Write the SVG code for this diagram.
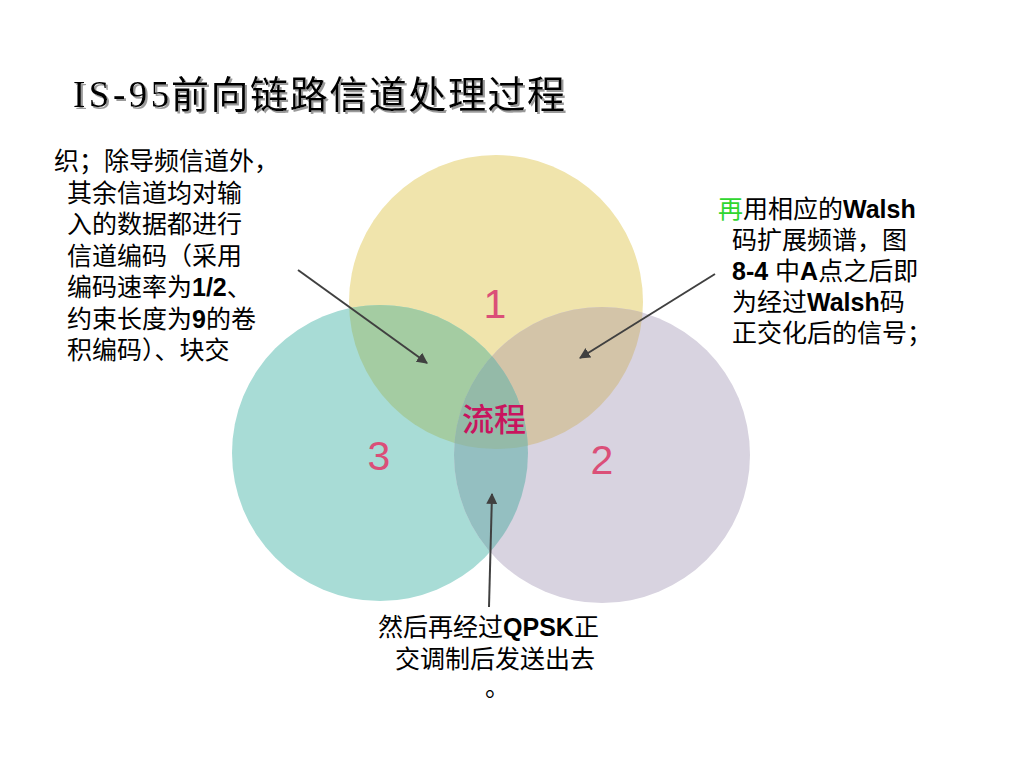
<svg xmlns="http://www.w3.org/2000/svg" width="1024" height="768" viewBox="0 0 1024 768">
<style>
.t{font-family:"Liberation Sans","Noto Sans CJK SC",sans-serif;font-size:25px;fill:#000}
.b{font-weight:bold}
.num{font-family:"Liberation Sans",sans-serif;font-size:41px;fill:#DB4F78;text-anchor:middle}
.ln{stroke:#404040;stroke-width:2;fill:none}
</style>
<defs>
<filter id="sh" x="-5%" y="-20%" width="110%" height="150%">
<feDropShadow dx="2" dy="2" stdDeviation="0.6" flood-color="#9a9a9a" flood-opacity="1"/>
</filter>
<marker id="ah" viewBox="0 0 10 10" refX="9" refY="5" markerWidth="5.5" markerHeight="5.5" orient="auto" markerUnits="strokeWidth">
<path d="M0,0 L10,5 L0,10 z" fill="#404040"/>
</marker>
<clipPath id="c1"><circle cx="496" cy="302" r="147"/></clipPath>
<clipPath id="c2"><circle cx="602" cy="455" r="148"/></clipPath>
<clipPath id="c3"><circle cx="380" cy="453" r="148"/></clipPath>
</defs>
<rect width="1024" height="768" fill="#fff"/>
<text y="107" fill="#000" filter="url(#sh)"><tspan x="73" font-family="'Liberation Serif',serif" font-size="37" letter-spacing="3.5">IS-95</tspan><tspan x="171" y="108" font-family="'Noto Sans CJK SC',sans-serif" font-size="38" textLength="394" lengthAdjust="spacing">前向链路信道处理过程</tspan></text>
<g id="circle1"><circle cx="496" cy="302" r="147" fill="#F0E4AC"/></g>
<g id="circle3"><circle cx="380" cy="453" r="148" fill="#A8DCD6"/></g>
<g id="circle2"><circle cx="602" cy="455" r="148" fill="#D8D3E0"/></g>
<g id="overlaps">
<circle cx="380" cy="453" r="148" fill="#A4CCA2" clip-path="url(#c1)"/>
<circle cx="602" cy="455" r="148" fill="#D3C4A8" clip-path="url(#c1)"/>
<circle cx="602" cy="455" r="148" fill="#94BFC1" clip-path="url(#c3)"/>
<g clip-path="url(#c1)"><circle cx="602" cy="455" r="148" fill="#94BAA8" clip-path="url(#c3)"/></g>
</g>
<g id="labels">
<text class="num" x="495" y="318">1</text>
<text class="num" x="379" y="470">3</text>
<text class="num" x="602" y="474">2</text>
<text x="494" y="431" font-family="'Noto Sans CJK SC',sans-serif" font-size="32" font-weight="500" fill="#C8145E" text-anchor="middle">流程</text>
</g>
<g id="connectors">
<line class="ln" x1="298" y1="270" x2="427" y2="363" marker-end="url(#ah)"/>
<line class="ln" x1="715" y1="274" x2="580" y2="358" marker-end="url(#ah)"/>
<line class="ln" x1="489" y1="607" x2="492" y2="494" marker-end="url(#ah)"/>
</g>
<g id="note-left">
<text class="t" x="54" y="170">织；除导频信道外，</text>
<text class="t" x="67" y="201.5">其余信道均对输</text>
<text class="t" x="67" y="233">入的数据都进行</text>
<text class="t" x="67" y="264.5">信道编码（采用</text>
<text class="t" x="67" y="296">编码速率为<tspan class="b">1/2</tspan>、</text>
<text class="t" x="67" y="327.5">约束长度为<tspan class="b">9</tspan>的卷</text>
<text class="t" x="67" y="359">积编码）、块交</text>
</g>
<g id="note-right">
<text class="t" x="718" y="218"><tspan fill="#2FD62F">再</tspan>用相应的<tspan class="b">Walsh</tspan></text>
<text class="t" x="732" y="249">码扩展频谱，图</text>
<text class="t" x="732" y="280"><tspan class="b">8-4</tspan> 中<tspan class="b">A</tspan>点之后即</text>
<text class="t" x="732" y="311">为经过<tspan class="b">Walsh</tspan>码</text>
<text class="t" x="732" y="342">正交化后的信号；</text>
</g>
<g id="note-bottom">
<text class="t" x="378" y="636">然后再经过<tspan class="b">QPSK</tspan>正</text>
<text class="t" x="395" y="668">交调制后发送出去</text>
<text class="t" x="485" y="696">。</text>
</g>
</svg>
